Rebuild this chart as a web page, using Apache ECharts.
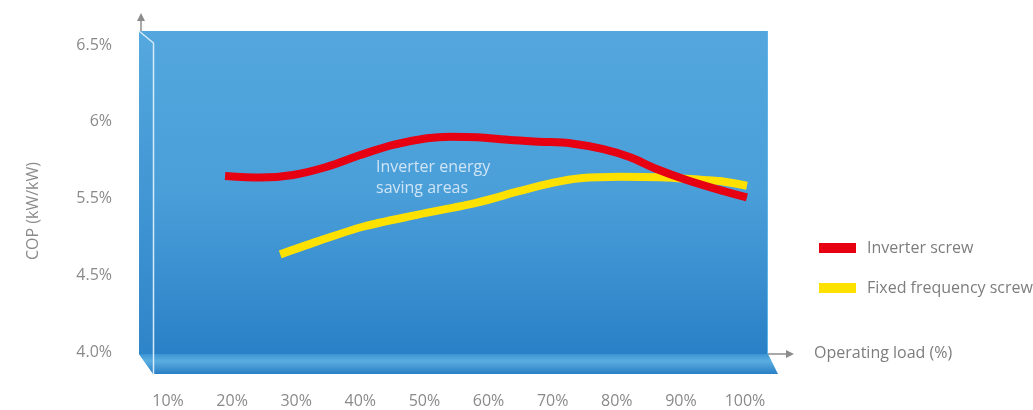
<!DOCTYPE html>
<html>
<head>
<meta charset="utf-8">
<script src="https://cdn.jsdelivr.net/npm/echarts@6/dist/echarts.min.js"></script>
<style>
html,body{margin:0;padding:0;background:#fff;}
#c{width:1033px;height:410px;}
</style>
</head>
<body>
<div id="c"></div>
<script>
// ---- data ----
var xTickLabels = ['10%','20%','30%','40%','50%','60%','70%','80%','90%','100%'];
var yTickLabels = ['4.0%','4.5%','5.5%','6%','6.5%'];
var inverterLoad = [18.9, 24.4, 29.5, 34.8, 40.0, 45.1, 50.4, 54.0, 58.2, 63.4, 68.0, 72.7, 77.9, 82.1, 86.0, 90.9, 96.1, 100.3];
var inverterCop  = [5.147, 5.136, 5.153, 5.207, 5.283, 5.349, 5.392, 5.403, 5.399, 5.381, 5.370, 5.360, 5.321, 5.268, 5.196, 5.121, 5.055, 5.008];
var fixedLoad = [27.5, 33.2, 40.4, 48.8, 58.2, 64.9, 70.1, 74.3, 80.5, 86.7, 93.5, 96.1, 100.3];
var fixedCop  = [4.636, 4.719, 4.816, 4.893, 4.973, 5.049, 5.103, 5.132, 5.142, 5.138, 5.121, 5.114, 5.083];
var seriesNames = ['Inverter screw', 'Fixed frequency screw'];

function pairs(xs, ys){ return xs.map(function(x,i){ return [x, ys[i]]; }); }

var FONT = '"Open Sans", "Noto Sans", sans-serif';
var GRAY = '#8a8a8a';

var chart = echarts.init(document.getElementById('c'), null, {renderer:'canvas'});

var backGrad = new echarts.graphic.LinearGradient(0,0,0,1,[
  {offset:0,color:'#53a7de'},{offset:0.5,color:'#4a9fd9'},{offset:1,color:'#2a80c6'}]);
var sideGrad = new echarts.graphic.LinearGradient(0,0,0,1,[
  {offset:0,color:'#55a9df'},{offset:1,color:'#2c82c7'}]);
var stripGrad = new echarts.graphic.LinearGradient(0,0,0,1,[
  {offset:0,color:'#3c94d2'},{offset:0.35,color:'#5aaee1'},{offset:1,color:'#2a7fc6'}]);

var option = {
  animation:false,
  backgroundColor:'#ffffff',
  textStyle:{fontFamily:FONT},
  grid:{left:168, right:288, top:45, bottom:58, containLabel:false, outerBoundsMode:'none'},
  legend:{
    orient:'vertical', left:819, top:240, padding:0,
    itemWidth:37, itemHeight:10, itemGap:24,
    icon:'rect',
    textStyle:{color:'#7d7d7d', fontSize:16, lineHeight:16, fontFamily:FONT, padding:[0,0,0,6]},
    data:seriesNames
  },
  xAxis:{
    type:'value', min:10, max:100, interval:10,
    axisLine:{show:false}, axisTick:{show:false}, splitLine:{show:false},
    axisLabel:{color:GRAY, fontSize:16, fontFamily:FONT, margin:41,
      formatter:function(v){ return xTickLabels[Math.round((v-10)/10)] || ''; }}
  },
  yAxis:{
    type:'value', min:4.0, max:6.0, interval:0.5,
    axisLine:{show:false}, axisTick:{show:false}, splitLine:{show:false},
    axisLabel:{color:GRAY, fontSize:16, fontFamily:FONT, margin:56,
      formatter:function(v){ return yTickLabels[Math.round((v-4)/0.5)] || ''; }}
  },
  graphic:[
    // back panel
    {type:'rect', z:0, shape:{x:139,y:31,width:629,height:323}, style:{fill:backGrad}},
    {type:'line', z:0, shape:{x1:767.5,y1:31,x2:767.5,y2:354}, style:{stroke:'#5db5e8',lineWidth:1}},
    // left side panel
    {type:'polygon', z:1, shape:{points:[[139,31],[153,43],[153,373],[139,354]]}, style:{fill:sideGrad}},
    // bottom strip
    {type:'polygon', z:1, shape:{points:[[139,354],[768,354],[778,374],[153,374]]}, style:{fill:stripGrad}},
    // white edges
    {type:'polyline', z:1, shape:{points:[[139,31],[153.5,43],[153.5,374]]}, style:{stroke:'#d6ebf8',lineWidth:1.5,fill:null}},
    // y axis arrow
    {type:'line', z:1, shape:{x1:141,y1:31,x2:141,y2:18}, style:{stroke:'#8c8c8c',lineWidth:1.5}},
    {type:'polygon', z:1, shape:{points:[[137,21],[141,13],[145,21]]}, style:{fill:'#8c8c8c'}},
    // x axis arrow
    {type:'line', z:1, shape:{x1:768,y1:354,x2:790,y2:354}, style:{stroke:'#8c8c8c',lineWidth:1.5}},
    {type:'polygon', z:1, shape:{points:[[786,350],[794,354],[786,358]]}, style:{fill:'#8c8c8c'}},
    // axis names
    {type:'text', z:1, left:814, top:345, style:{text:'Operating load (%)', fill:'#7d7d7d', font:'16px '+FONT}},
    {type:'text', z:1, x:33, y:211, rotation:Math.PI/2, style:{text:'COP (kW/kW)', fill:GRAY, font:'16px '+FONT, align:'center', verticalAlign:'middle'}},
    // annotation
    {type:'text', z:3, left:376, top:157, style:{text:'Inverter energy\nsaving areas', fill:'#cfe4f5', font:'16px '+FONT, lineHeight:21}}
  ],
  series:[
    {
      name:seriesNames[0], type:'line', z:5, smooth:0.3, showSymbol:false, symbol:'none',
      data:pairs(inverterLoad, inverterCop),
      lineStyle:{color:'#e60012', width:8, cap:'butt'},
      itemStyle:{color:'#e60012'}
    },
    {
      name:seriesNames[1], type:'line', z:4, smooth:0.3, showSymbol:false, symbol:'none',
      data:pairs(fixedLoad, fixedCop),
      lineStyle:{color:'#ffe100', width:8, cap:'butt'},
      itemStyle:{color:'#ffe100'}
    }
  ]
};
chart.setOption(option);
</script>
</body>
</html>
